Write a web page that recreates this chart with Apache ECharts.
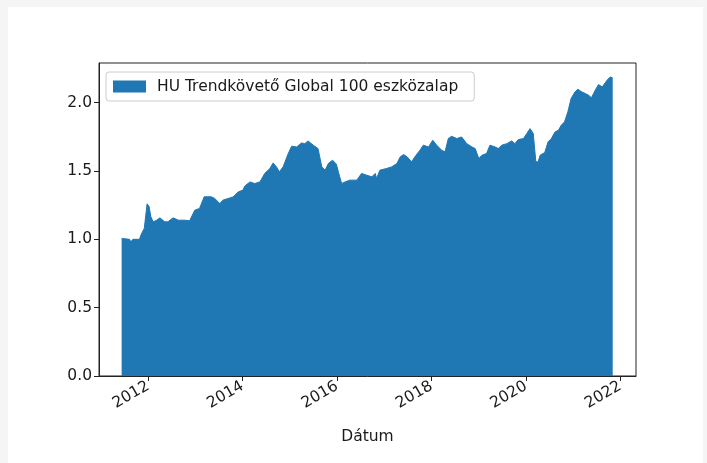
<!DOCTYPE html>
<html>
<head>
<meta charset="utf-8">
<script src="https://cdn.jsdelivr.net/npm/echarts@6/dist/echarts.min.js"></script>
<style>
html,body{margin:0;padding:0;background:#f5f5f5;}
#chart{width:707px;height:463px;}
</style>
</head>
<body>
<div id="chart"></div>
<script>
const seriesName = 'HU Trendkövető Global 100 eszközalap';
const dates = [
'2011-06-10','2011-08-11','2011-08-18','2011-09-05','2011-10-26','2011-11-10','2011-12-02','2011-12-24',
'2012-01-08','2012-01-22','2012-02-09','2012-03-07','2012-04-01','2012-05-08','2012-06-02','2012-07-12','2012-08-22','2012-10-12','2012-11-17','2012-12-27',
'2013-02-02','2013-03-10','2013-05-04','2013-05-30','2013-07-09','2013-08-03','2013-09-12','2013-10-19','2013-11-28',
'2014-01-04','2014-01-18','2014-02-27','2014-04-05','2014-05-15','2014-06-21','2014-07-31','2014-08-25','2014-09-20','2014-10-12','2014-11-10','2014-12-20',
'2015-01-15','2015-02-24','2015-04-01','2015-04-27','2015-05-22','2015-07-01','2015-08-07','2015-09-05','2015-10-01','2015-10-26','2015-11-28','2015-12-27',
'2016-01-11','2016-01-22','2016-02-06','2016-03-03','2016-04-09','2016-06-02','2016-07-09','2016-08-18','2016-09-27','2016-10-23','2016-11-03','2016-11-28',
'2017-01-18','2017-02-27','2017-04-09','2017-05-04','2017-05-30','2017-06-28','2017-07-31','2017-08-25','2017-10-04','2017-10-30','2017-12-09',
'2018-01-11','2018-02-09','2018-03-21','2018-04-16','2018-05-11','2018-06-06','2018-07-16','2018-08-22','2018-10-01','2018-11-10','2018-12-05',
'2019-01-02','2019-01-26','2019-03-03','2019-03-29','2019-05-08','2019-06-02','2019-06-28','2019-08-07','2019-09-13','2019-10-08','2019-11-03','2019-12-13',
'2020-01-08','2020-02-02','2020-02-16','2020-02-27','2020-03-18','2020-04-05','2020-04-20','2020-05-26','2020-06-21','2020-07-16','2020-08-14','2020-09-09','2020-10-01','2020-10-26','2020-11-21','2020-12-16',
'2021-01-15','2021-02-06','2021-03-10','2021-04-05','2021-05-01','2021-05-22','2021-06-21','2021-07-16','2021-08-14','2021-09-20','2021-10-15','2021-10-26','2021-11-03'
];
const values = [
1.006,1.00,0.98,1.00,1.00,1.04,1.08,1.26,
1.24,1.165,1.128,1.14,1.157,1.128,1.128,1.157,1.14,1.14,1.135,1.213,
1.226,1.311,1.311,1.299,1.262,1.287,1.299,1.31,1.347,
1.36,1.39,1.42,1.408,1.42,1.482,1.518,1.559,1.53,1.494,1.53,1.628,
1.681,1.676,1.705,1.70,1.72,1.689,1.664,1.53,1.506,1.555,1.579,1.55,
1.494,1.457,1.408,1.42,1.433,1.433,1.482,1.469,1.457,1.482,1.445,1.506,
1.518,1.53,1.555,1.603,1.62,1.603,1.567,1.603,1.652,1.689,1.676,
1.725,1.69,1.652,1.64,1.737,1.754,1.737,1.749,1.70,1.676,1.664,
1.591,1.615,1.628,1.689,1.676,1.664,1.689,1.70,1.72,1.70,1.73,1.737,
1.774,1.81,1.822,1.774,1.567,1.567,1.615,1.635,1.713,1.737,1.786,1.798,1.835,1.859,1.932,2.03,
2.078,2.098,2.078,2.067,2.054,2.035,2.091,2.132,2.115,2.164,2.188,2.18,2.18
];
const xTickYears = [2012, 2014, 2016, 2018, 2020, 2022];
const yTicks = [0, 0.5, 1.0, 1.5, 2.0];
const xTitle = 'Dátum';
const xRange = ['2010-12-17', '2022-05-02'];

// convert a 'YYYY-MM-DD' date to a decimal year for the value axis
function toYear(s) {
  const [y, m, d] = s.split('-').map(Number);
  const start = Date.UTC(y, 0, 1), end = Date.UTC(y + 1, 0, 1);
  return y + (Date.UTC(y, m - 1, d) - start) / (end - start);
}

const chart = echarts.init(document.getElementById('chart'), null, {renderer:'canvas'});
const font = 'DejaVu Sans';
const fs = 15.5;
const txt = '#1a1a1a';
chart.setOption({
  animation:false,
  backgroundColor:'#f5f5f5',
  graphic:[{type:'rect', left:8, top:7, shape:{width:695, height:460}, style:{fill:'#ffffff'}, z:-10}],
  grid:{left:99, top:63, right:71, bottom:87, show:true, borderColor:'#222', borderWidth:1, backgroundColor:'transparent'},
  legend:{
    left:106, top:72, orient:'vertical',
    padding:[6,16,6,7],
    itemWidth:33, itemHeight:12,
    icon:'rect',
    backgroundColor:'#fff', borderColor:'#cccccc', borderWidth:1, borderRadius:3,
    textStyle:{fontFamily:font, fontSize:fs, lineHeight:17, color:txt, padding:[0,0,0,6]},
    data:[seriesName]
  },
  xAxis:{
    type:'value',
    min:toYear(xRange[0]), max:toYear(xRange[1]),
    name:xTitle, nameLocation:'middle', nameGap:53,
    nameTextStyle:{fontFamily:font, fontSize:fs, color:txt},
    axisLine:{show:true, onZero:false, lineStyle:{color:'#222', width:1}},
    axisTick:{show:true, inside:false, length:5, lineStyle:{color:'#222'}, customValues:xTickYears},
    axisLabel:{
      customValues:xTickYears, rotate:30, margin:9,
      fontFamily:font, fontSize:fs, color:txt,
      formatter:v => String(Math.round(v))
    },
    splitLine:{show:false}
  },
  yAxis:{
    type:'value', min:0, max:2.29,
    axisLine:{show:true, lineStyle:{color:'#222', width:1}},
    axisTick:{show:true, inside:false, length:5, lineStyle:{color:'#222'}, customValues:yTicks},
    axisLabel:{customValues:yTicks, margin:7, fontFamily:font, fontSize:fs, color:txt, formatter:v => v.toFixed(1)},
    splitLine:{show:false}
  },
  series:[{
    name:seriesName,
    type:'line',
    data:dates.map((d,i)=>[toYear(d), values[i]]),
    showSymbol:false,
    symbol:'none',
    color:'#1f77b4',
    lineStyle:{color:'#1f77b4', width:1},
    areaStyle:{color:'#1f77b4', opacity:1},
    itemStyle:{color:'#1f77b4'}
  }]
});
</script>
</body>
</html>
